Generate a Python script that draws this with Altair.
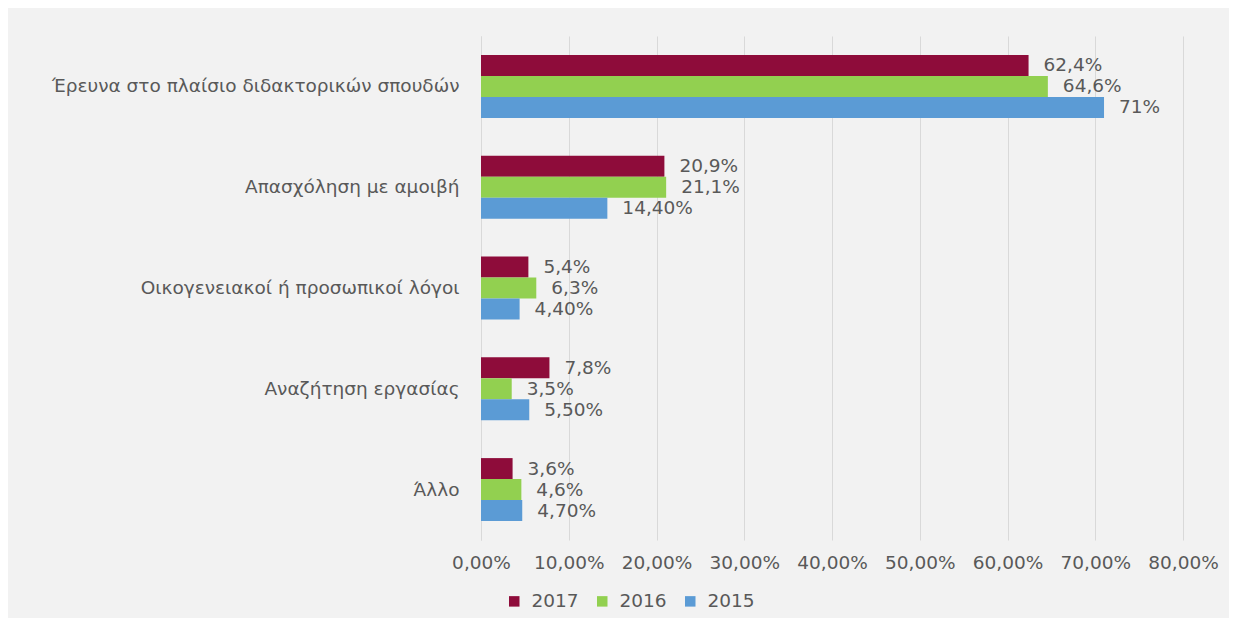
import altair as alt
import pandas as pd

categories = [
    "Έρευνα στο πλαίσιο διδακτορικών σπουδών",
    "Απασχόληση με αμοιβή ",
    "Οικογενειακοί ή προσωπικοί λόγοι",
    "Αναζήτηση εργασίας",
    "Άλλο",
]
years = ["2017", "2016", "2015"]
v2017 = [62.4, 20.9, 5.4, 7.8, 3.6]
v2016 = [64.6, 21.1, 6.3, 3.5, 4.6]
v2015 = [71.0, 14.4, 4.4, 5.5, 4.7]
l2017 = ["62,4%", "20,9%", "5,4%", "7,8%", "3,6%"]
l2016 = ["64,6%", "21,1%", "6,3%", "3,5%", "4,6%"]
l2015 = ["71%", "14,40%", "4,40%", "5,50%", "4,70%"]
x_ticks = [0, 10, 20, 30, 40, 50, 60, 70, 80]
colors = ["#8E0C3A", "#92D050", "#5B9BD5"]

rows = []
for yr, vals, labs in [("2017", v2017, l2017), ("2016", v2016, l2016), ("2015", v2015, l2015)]:
    for c, v, l in zip(categories, vals, labs):
        rows.append({"category": c, "year": yr, "value": v, "label": l})
df = pd.DataFrame(rows)

FONT = "DejaVu Sans"
FS = 18.5
TXT = "#595959"

base = alt.Chart(df).encode(
    y=alt.Y(
        "category:N",
        sort=categories,
        scale=alt.Scale(paddingInner=0.375, paddingOuter=0.1875),
        axis=alt.Axis(
            title=None, labelFont=FONT, labelFontSize=FS, labelColor=TXT,
            ticks=False, labelPadding=22, domainColor="#d9d9d9", grid=False,
            labelLimit=500,
        ),
    ),
    yOffset=alt.YOffset("year:N", sort=years),
)

bars = base.mark_bar().encode(
    x=alt.X(
        "value:Q",
        scale=alt.Scale(domain=[0, 80], nice=False),
        axis=alt.Axis(
            title=None, values=x_ticks, labelFont=FONT, labelFontSize=FS,
            labelColor=TXT, ticks=False, domain=False, gridColor="#d9d9d9",
            labelPadding=13, labelOverlap=False, labelFlush=False,
            labelBound=False,
            labelExpr="replace(format(datum.value, '.2f'), '.', ',') + '%'",
        ),
    ),
    color=alt.Color(
        "year:N", sort=years,
        scale=alt.Scale(domain=years, range=colors),
        legend=alt.Legend(
            title=None, orient="none", legendX=24, legendY=556,
            direction="horizontal", symbolType="square", symbolSize=110,
            symbolStrokeWidth=0, labelFont=FONT, labelFontSize=FS,
            labelColor=TXT, columnPadding=14, labelOffset=8, padding=0,
        ),
    ),
)

texts = base.mark_text(align="left", baseline="middle", dx=15, font=FONT,
                       fontSize=FS, color=TXT).encode(
    x="value:Q",
    text="label:N",
)

chart = (
    alt.layer(bars, texts)
    .properties(
        width=702, height=504,
        autosize=alt.AutoSizeParams(type="none"),
        padding={"left": 473, "top": 28, "right": 46, "bottom": 78},
        background="#f2f2f2",
    )
    .configure_view(stroke=None)
)

chart.save("out.html", embed_options={"renderer": "svg", "actions": False})
